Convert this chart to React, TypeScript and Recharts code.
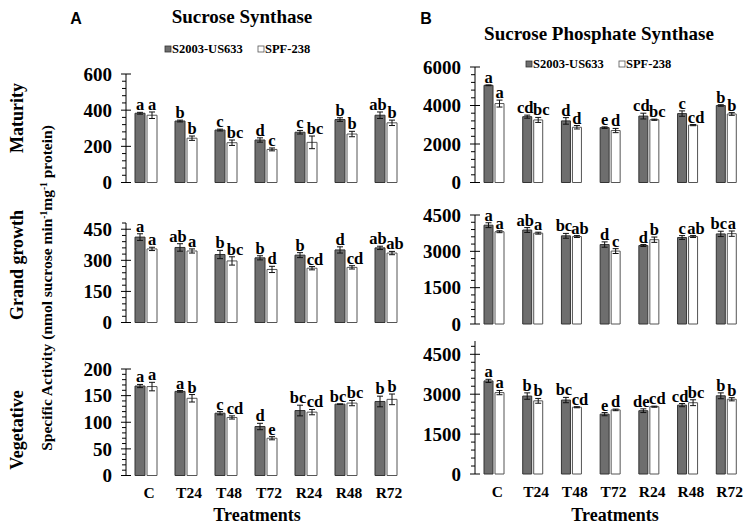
import React from "react";
import { BarChart, Bar, XAxis, YAxis, ErrorBar, LabelList } from "recharts";

const SERIF = "'Liberation Serif', 'Times New Roman', serif";
const SANS = "'Liberation Sans', Arial, sans-serif";
const DARK = "#6e6e6e";

const treatments = ["C", "T24", "T48", "T72", "R24", "R48", "R72"];
const cultivars = ["S2003-US633", "SPF-238"];

// Sucrose synthase - maturity
const susyMatDark = [383, 340, 290, 235, 278, 348, 372];
const susyMatDarkErr = [5, 5, 5, 12, 10, 10, 18];
const susyMatDarkSig = ["a", "b", "c", "d", "c", "b", "ab"];
const susyMatLight = [372, 245, 220, 183, 222, 268, 330];
const susyMatLightErr = [18, 12, 15, 8, 35, 15, 15];
const susyMatLightSig = ["a", "b", "bc", "c", "bc", "b", "b"];

// Sucrose synthase - grand growth
const susyGrDark = [412, 362, 328, 312, 325, 350, 360];
const susyGrDarkErr = [16, 18, 20, 10, 12, 15, 8];
const susyGrDarkSig = ["a", "ab", "b", "b", "b", "d", "ab"];
const susyGrLight = [355, 345, 297, 256, 262, 266, 335];
const susyGrLightErr = [8, 10, 20, 15, 8, 8, 8];
const susyGrLightSig = ["a", "a", "bc", "d", "cd", "cd", "ab"];

// Sucrose synthase - vegetative
const susyVegDark = [168, 158, 117, 92, 122, 134, 139];
const susyVegDarkErr = [3, 1.5, 3, 6, 10, 0.5, 10];
const susyVegDarkSig = ["a", "a", "c", "d", "bc", "bc", "b"];
const susyVegLight = [167, 145, 109, 70, 119, 136, 143];
const susyVegLightErr = [8, 7, 3, 3, 5, 5, 10];
const susyVegLightSig = ["a", "b", "cd", "e", "cd", "bc", "b"];

// Sucrose phosphate synthase - maturity
const spsMatDark = [5050, 3420, 3200, 2850, 3450, 3580, 4000];
const spsMatDarkErr = [20, 80, 170, 40, 150, 140, 40];
const spsMatDarkSig = ["a", "cd", "d", "e", "cd", "c", "b"];
const spsMatLight = [4100, 3250, 2870, 2700, 3260, 2980, 3560];
const spsMatLightErr = [180, 130, 90, 110, 30, 30, 70];
const spsMatLightSig = ["a", "bc", "d", "d", "bc", "cd", "b"];

// Sucrose phosphate synthase - grand growth
const spsGrDark = [4080, 3880, 3640, 3280, 3240, 3570, 3720];
const spsGrDarkErr = [100, 100, 100, 110, 40, 80, 110];
const spsGrDarkSig = ["a", "ab", "bc", "d", "d", "c", "bc"];
const spsGrLight = [3810, 3750, 3610, 3010, 3480, 3610, 3730];
const spsGrLightErr = [40, 40, 40, 100, 110, 40, 110];
const spsGrLightSig = ["a", "a", "ab", "c", "b", "ab", "a"];

// Sucrose phosphate synthase - vegetative
const spsVegDark = [3500, 2930, 2780, 2250, 2380, 2590, 2940];
const spsVegDarkErr = [60, 120, 100, 60, 70, 60, 110];
const spsVegDarkSig = ["a", "b", "bc", "e", "de", "cd", "b"];
const spsVegLight = [3060, 2750, 2510, 2410, 2530, 2680, 2810];
const spsVegLightErr = [80, 90, 20, 30, 20, 110, 60];
const spsVegLightSig = ["a", "b", "cd", "d", "cd", "bc", "b"];

type Row = { t: string; d: number; de: number; ds: string; l: number; le: number; ls: string };

function buildRows(d: number[], de: number[], ds: string[], l: number[], le: number[], ls: string[]): Row[] {
  return treatments.map((t, i) => ({ t, d: d[i], de: de[i], ds: ds[i], l: l[i], le: le[i], ls: ls[i] }));
}

function sigLabel(rows: Row[], vKey: "d" | "l", eKey: "de" | "le", sKey: "ds" | "ls", shift: number) {
  return (p: any) => {
    const vb = p.viewBox ?? p;
    const x = Number(vb.x);
    const y = Number(vb.y);
    const w = Number(vb.width);
    const h = Number(vb.height);
    const r = rows[p.index];
    if (!r) return null;
    const ePx = r[vKey] ? (r[eKey] * h) / r[vKey] : 0;
    const s = r[sKey];
    const dx = s.length > 1 ? shift : 0;
    return (
      <text x={x + w / 2 + dx} y={y - ePx - 2} textAnchor="middle" fontFamily={SERIF} fontWeight="bold" fontSize={16.5} fill="#000">
        {s}
      </text>
    );
  };
}

function yTick(majors: number[]) {
  return (p: any) => {
    const { x, y, payload } = p;
    const major = majors.includes(payload.value);
    return (
      <g>
        <line x1={major ? x - 5 : x - 4} x2={major ? x + 5 : x} y1={y} y2={y} stroke="#000" strokeWidth={1} />
        {major && (
          <text x={x - 14} y={y} dy="0.35em" textAnchor="end" fontFamily={SERIF} fontWeight="bold" fontSize={19} fill="#000">
            {payload.value}
          </text>
        )}
      </g>
    );
  };
}

function xTick(p: any) {
  const { x, y, payload } = p;
  return (
    <text x={x + 3} y={y} dy="0.75em" textAnchor="middle" fontFamily={SERIF} fontWeight="bold" fontSize={15.5} fill="#000">
      {payload.value}
    </text>
  );
}

type PanelProps = {
  rows: Row[];
  plotX: number;
  plotTop: number;
  plotBottom: number;
  plotW: number;
  max: number;
  majors: number[];
  minorStep: number;
  barW: number;
  showX?: boolean;
};

function Panel({ rows, plotX, plotTop, plotBottom, plotW, max, majors, minorStep, barW, showX }: PanelProps) {
  const padTop = 24;
  const padBottom = 12;
  const yW = 70;
  const xH = showX ? 32 : 0;
  const ticks: number[] = [];
  for (let k = 0; k * minorStep <= max; k++) ticks.push(k * minorStep);
  return (
    <div style={{ position: "absolute", left: plotX - yW, top: plotTop - padTop }}>
      <BarChart
        width={yW + plotW}
        height={padTop + (plotBottom - plotTop) + xH + padBottom}
        data={rows}
        margin={{ top: padTop, right: 0, bottom: padBottom, left: 0 }}
        barGap={2}
        barSize={barW}
      >
        {showX ? (
          <XAxis
            dataKey="t"
            axisLine={false}
            tickLine={false}
            tickSize={0}
            tickMargin={11}
            height={xH}
            interval={0}
            tick={xTick}
          />
        ) : (
          <XAxis dataKey="t" hide />
        )}
        <YAxis
          width={yW}
          domain={[0, max]}
          ticks={ticks}
          interval={0}
          tickSize={0}
          tickMargin={0}
          tickLine={false}
          axisLine={{ stroke: "#000" }}
          tick={yTick(majors)}
        />
        <Bar dataKey="d" fill={DARK} stroke="#333" strokeWidth={1} isAnimationActive={false}>
          <ErrorBar dataKey="de" width={3} stroke="#111" strokeWidth={1} direction="y" />
          <LabelList dataKey="ds" content={sigLabel(rows, "d", "de", "ds", -2)} />
        </Bar>
        <Bar dataKey="l" fill="#fff" stroke="#555" strokeWidth={1} isAnimationActive={false}>
          <ErrorBar dataKey="le" width={3} stroke="#111" strokeWidth={1} direction="y" />
          <LabelList dataKey="ls" content={sigLabel(rows, "l", "le", "ls", 3)} />
        </Bar>
      </BarChart>
    </div>
  );
}

const bold = { fontFamily: SERIF, fontWeight: "bold" as const, fill: "#000" };

function Legend({ x, y }: { x: number; y: number }) {
  return (
    <g>
      <rect x={x} y={y - 7} width={6} height={6} fill={DARK} stroke="#333" strokeWidth={0.8} />
      <text x={x + 7} y={y} fontSize={12.5} {...bold}>{cultivars[0]}</text>
      <rect x={x + 93} y={y - 7} width={6} height={6} fill="#fff" stroke="#555" strokeWidth={0.8} />
      <text x={x + 100} y={y} fontSize={12.5} {...bold}>{cultivars[1]}</text>
    </g>
  );
}

export default function App() {
  const L = { plotX: 126, plotW: 280, barW: 10 };
  const R = { plotX: 475, plotW: 271, barW: 9 };
  return (
    <div style={{ position: "absolute", left: 0, top: 0, width: 751, height: 526, background: "#fff" }}>
      <Panel
        rows={buildRows(susyMatDark, susyMatDarkErr, susyMatDarkSig, susyMatLight, susyMatLightErr, susyMatLightSig)}
        {...L}
        plotTop={74}
        plotBottom={182.5}
        max={600}
        majors={[0, 200, 400, 600]}
        minorStep={40}
      />
      <Panel
        rows={buildRows(susyGrDark, susyGrDarkErr, susyGrDarkSig, susyGrLight, susyGrLightErr, susyGrLightSig)}
        {...L}
        plotTop={223}
        plotBottom={322.5}
        max={480}
        majors={[0, 150, 300, 450]}
        minorStep={30}
      />
      <Panel
        rows={buildRows(susyVegDark, susyVegDarkErr, susyVegDarkSig, susyVegLight, susyVegLightErr, susyVegLightSig)}
        {...L}
        plotTop={368.5}
        plotBottom={475}
        max={200}
        majors={[0, 50, 100, 150, 200]}
        minorStep={10}
        showX
      />
      <Panel
        rows={buildRows(spsMatDark, spsMatDarkErr, spsMatDarkSig, spsMatLight, spsMatLightErr, spsMatLightSig)}
        {...R}
        plotTop={66.5}
        plotBottom={182}
        max={6000}
        majors={[0, 2000, 4000, 6000]}
        minorStep={400}
      />
      <Panel
        rows={buildRows(spsGrDark, spsGrDarkErr, spsGrDarkSig, spsGrLight, spsGrLightErr, spsGrLightSig)}
        {...R}
        plotTop={215}
        plotBottom={324}
        max={4500}
        majors={[0, 1500, 3000, 4500]}
        minorStep={300}
      />
      <Panel
        rows={buildRows(spsVegDark, spsVegDarkErr, spsVegDarkSig, spsVegLight, spsVegLightErr, spsVegLightSig)}
        {...R}
        plotTop={341}
        plotBottom={474}
        max={5000}
        majors={[0, 1500, 3000, 4500]}
        minorStep={300}
        showX
      />
      <svg width={751} height={526} style={{ position: "absolute", left: 0, top: 0, pointerEvents: "none" }}>
        <text x={76} y={24} textAnchor="middle" fontFamily={SANS} fontWeight="bold" fontSize={16} fill="#000">A</text>
        <text x={426} y={24} textAnchor="middle" fontFamily={SANS} fontWeight="bold" fontSize={16} fill="#000">B</text>
        <text x={242} y={23} textAnchor="middle" fontSize={19} {...bold}>Sucrose Synthase</text>
        <text x={599} y={40} textAnchor="middle" fontSize={19} {...bold}>Sucrose Phosphate Synthase</text>
        <Legend x={165} y={53} />
        <Legend x={526} y={68} />
        <text transform="translate(17,118) rotate(-90)" textAnchor="middle" dy="0.35em" fontSize={18} {...bold}>Maturity</text>
        <text transform="translate(17,265) rotate(-90)" textAnchor="middle" dy="0.35em" fontSize={18} {...bold}>Grand growth</text>
        <text transform="translate(17,430) rotate(-90)" textAnchor="middle" dy="0.35em" fontSize={18} {...bold}>Vegetative</text>
        <text transform="translate(47,288) rotate(-90)" textAnchor="middle" dy="0.35em" fontSize={15.5} {...bold}>
          Specific Activity (nmol sucrose min<tspan dy={-5} fontSize={9.5}>-1</tspan>
          <tspan dy={5}>mg</tspan><tspan dy={-5} fontSize={9.5}>-1</tspan>
          <tspan dy={5}> protein)</tspan>
        </text>
        <text x={257} y={521} textAnchor="middle" fontSize={18} {...bold}>Treatments</text>
        <text x={615} y={521} textAnchor="middle" fontSize={18} {...bold}>Treatments</text>
      </svg>
    </div>
  );
}
